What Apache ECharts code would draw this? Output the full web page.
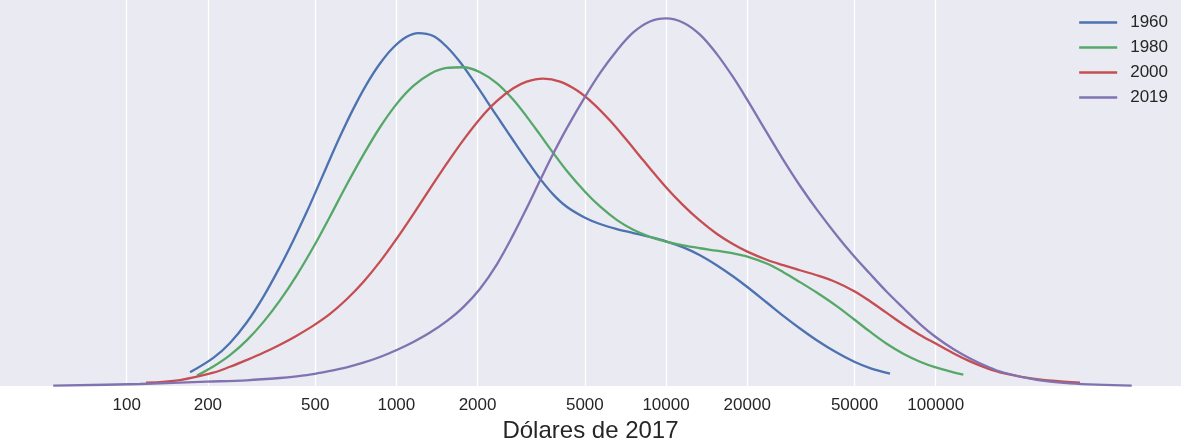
<!DOCTYPE html>
<html>
<head>
<meta charset="utf-8">
<script src="https://cdn.jsdelivr.net/npm/echarts@6/dist/echarts.min.js"></script>
<style>
  html, body { margin: 0; padding: 0; background: #ffffff; }
  #chart { width: 1181px; height: 444px; }
</style>
</head>
<body>
<div id="chart"></div>
<script>
// Income distribution (KDE of income in 2017 dollars, log scale) by year
const years = ['1960', '1980', '2000', '2019'];
const colors = ['#4C72B0', '#55A868', '#C44E52', '#8172B2'];

// [income in 2017 dollars, density]
const kde1960 = [
  [171.7, 0.0261], [209.5, 0.0535], [241.6, 0.0820], [278.6, 0.1209], [321.1, 0.1698],
  [370.2, 0.2271], [414.8, 0.2772], [465.0, 0.3312], [499.2, 0.3668], [551.7, 0.4181],
  [618.0, 0.4750], [692.3, 0.5277], [776.3, 0.5749], [869.6, 0.6141], [974.1, 0.6446],
  [1092, 0.6650], [1206, 0.6720], [1371, 0.6663], [1537, 0.6459], [1722, 0.6168],
  [1929, 0.5814], [2163, 0.5431], [2423, 0.5051], [2714, 0.4675], [3043, 0.4302],
  [3409, 0.3948], [3819, 0.3644], [4282, 0.3413], [5006, 0.3204], [5689, 0.3084],
  [6562, 0.2989], [7559, 0.2913], [8717, 0.2837], [9996, 0.2755], [11588, 0.2639],
  [13364, 0.2490], [15410, 0.2300], [17757, 0.2085], [20015, 0.1885], [23620, 0.1590],
  [27213, 0.1336], [31389, 0.1095], [36199, 0.0872], [42937, 0.0636], [49897, 0.0461],
  [57064, 0.0341], [67688, 0.0234]
];
const kde1980 = [
  [182.3, 0.0200], [209.5, 0.0371], [241.6, 0.0588], [278.6, 0.0868], [321.1, 0.1216],
  [370.2, 0.1630], [426.9, 0.2107], [499.2, 0.2699], [567.5, 0.3229], [654.4, 0.3832],
  [754.1, 0.4401], [869.6, 0.4927], [1002.8, 0.5372], [1156, 0.5713], [1333, 0.5942],
  [1537, 0.6056], [1771, 0.6069], [2043, 0.5974], [2356, 0.5766], [2714, 0.5450],
  [3043, 0.5130], [3409, 0.4786], [3819, 0.4436], [4282, 0.4099], [5006, 0.3699],
  [5689, 0.3419], [6562, 0.3164], [7559, 0.2974], [8717, 0.2840], [9996, 0.2749],
  [11588, 0.2677], [13364, 0.2623], [15410, 0.2576], [17757, 0.2524], [20015, 0.2465],
  [23620, 0.2332], [27213, 0.2168], [31389, 0.1978], [36199, 0.1780], [42937, 0.1521],
  [49897, 0.1266], [57064, 0.1034], [65808, 0.0805], [75824, 0.0615], [87437, 0.0463],
  [99986, 0.0354], [116200, 0.0261], [126600, 0.0215]
];
const kde2000 = [
  [117.9, 0.0063], [157.6, 0.0114], [209.5, 0.0253], [241.6, 0.0366], [278.6, 0.0495],
  [321.1, 0.0632], [370.2, 0.0786], [426.9, 0.0959], [492.0, 0.1150], [567.5, 0.1374],
  [654.4, 0.1652], [754.1, 0.1980], [869.6, 0.2368],
  [1002.8, 0.2806], [1156, 0.3274], [1333, 0.3758], [1537, 0.4234], [1771, 0.4683],
  [2043, 0.5091], [2356, 0.5424], [2714, 0.5669], [3043, 0.5797], [3506, 0.5854],
  [4044, 0.5797], [4666, 0.5631], [5374, 0.5378], [6196, 0.5054], [7145, 0.4683],
  [8233, 0.4297], [9996, 0.3786], [11588, 0.3440], [13364, 0.3147], [15410, 0.2899],
  [17757, 0.2698], [20015, 0.2559], [23620, 0.2404], [27213, 0.2300], [31389, 0.2204],
  [36199, 0.2109], [42937, 0.1972], [49897, 0.1805], [57064, 0.1614], [65808, 0.1392],
  [75824, 0.1171], [87437, 0.0973], [99986, 0.0809], [116200, 0.0624], [134060, 0.0468],
  [154560, 0.0341], [178100, 0.0246], [236800, 0.0131], [342800, 0.0065]
];
const kde2019 = [
  [53.4, 0.0006], [112.0, 0.0038], [198.0, 0.0082], [278.6, 0.0109], [370.2, 0.0152],
  [426.9, 0.0185], [499.2, 0.0232], [567.5, 0.0286], [654.4, 0.0356], [754.1, 0.0444],
  [869.6, 0.0552], [1002.8, 0.0685], [1156, 0.0838], [1333, 0.1017], [1537, 0.1234],
  [1771, 0.1502], [2043, 0.1852], [2356, 0.2313], [2714, 0.2882], [3043, 0.3387],
  [3409, 0.3912], [3819, 0.4426], [4282, 0.4906], [5006, 0.5506], [5689, 0.5957],
  [6562, 0.6385], [7559, 0.6732], [8717, 0.6941], [9996, 0.7000], [11588, 0.6918],
  [13364, 0.6690], [15410, 0.6324], [17757, 0.5875], [20015, 0.5448], [23620, 0.4828],
  [27213, 0.4306], [31389, 0.3813], [36199, 0.3362], [42937, 0.2867], [49897, 0.2465],
  [57064, 0.2136], [65808, 0.1795], [75824, 0.1485], [87437, 0.1180], [99986, 0.0933],
  [116200, 0.0704], [134060, 0.0524], [154560, 0.0375], [178100, 0.0257], [236800, 0.0118],
  [314800, 0.0051], [533100, 0.0006]
];
const seriesData = [kde1960, kde1980, kde2000, kde2019];

const tickValues = [100, 200, 500, 1000, 2000, 5000, 10000, 20000, 50000, 100000];
const xLabel = 'Dólares de 2017';

const FONT = "'Liberation Sans', Arial, sans-serif";
const TEXT = '#262626';

const chart = echarts.init(document.getElementById('chart'), null, { renderer: 'canvas' });

chart.setOption({
  animation: false,
  backgroundColor: '#ffffff',
  grid: {
    left: 0, right: 0, top: 0, bottom: 58,
    outerBoundsMode: 'none',
    containLabel: false,
    show: true,
    backgroundColor: '#EAEAF2',
    borderWidth: 0
  },
  legend: {
    orient: 'vertical',
    right: 13,
    top: 14,
    padding: 0,
    icon: 'rect',
    itemWidth: 38,
    itemHeight: 2.5,
    itemGap: 8,
    data: years,
    textStyle: {
      fontFamily: FONT,
      fontSize: 17,
      color: TEXT,
      padding: [0, 0, 0, 8]
    }
  },
  xAxis: {
    type: 'log',
    logBase: 10,
    min: 33.9,
    max: 812000,
    name: xLabel,
    nameLocation: 'middle',
    nameGap: 32,
    nameTextStyle: { fontFamily: FONT, fontSize: 24, color: TEXT },
    axisLine: { show: false },
    axisTick: { show: false, customValues: tickValues },
    axisLabel: {
      customValues: tickValues,
      fontFamily: FONT,
      fontSize: 17,
      color: TEXT,
      margin: 11,
      formatter: (v) => String(Math.round(v))
    },
    splitLine: { show: true, lineStyle: { color: '#ffffff', width: 1.3 } },
    minorSplitLine: { show: false }
  },
  yAxis: {
    type: 'value',
    min: 0,
    max: 0.735,
    axisLine: { show: false },
    axisTick: { show: false },
    axisLabel: { show: false },
    splitLine: { show: false }
  },
  series: seriesData.map((d, i) => ({
    name: years[i],
    type: 'line',
    data: d,
    smooth: 0.35,
    symbol: 'none',
    clip: false,
    color: colors[i],
    lineStyle: { color: colors[i], width: 2.3 },
    z: 3 + i
  }))
});
</script>
</body>
</html>
